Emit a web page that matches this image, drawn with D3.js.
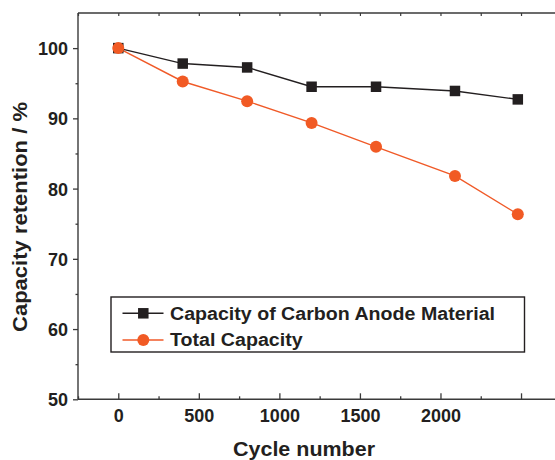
<!DOCTYPE html>
<html>
<head>
<meta charset="utf-8">
<script src="https://cdn.jsdelivr.net/npm/d3@7"></script>
<style>
html,body{margin:0;padding:0;background:#fff;}
svg{display:block;}
text{font-family:"Liberation Sans",Arial,sans-serif;font-weight:bold;fill:#231f20;}
</style>
</head>
<body>
<svg id="chart" width="555" height="460"></svg>
<script>
const cycles = [0, 400, 800, 1200, 1600, 2090, 2480];
const carbonAnode = [100, 97.8, 97.25, 94.5, 94.5, 93.9, 92.7];
const totalCapacity = [100, 95.25, 92.45, 89.35, 85.95, 81.8, 76.35];
const xTickValues = [0, 500, 1000, 1500, 2000, 2500];
const xTickLabels = ["0", "500", "1000", "1500", "2000", ""];
const xMinorValues = [-250, 250, 750, 1250, 1750, 2250, 2750];
const yTickValues = [50, 60, 70, 80, 90, 100];
const yMinorValues = [55, 65, 75, 85, 95];
const seriesNames = ["Capacity of Carbon Anode Material", "Total Capacity"];

const svg = d3.select("#chart");
const L = 78, T = 13, B = 399.3;
const x = d3.scaleLinear().domain([-250, 2750]).range([L, L + 6 * 80.55]);
const y = d3.scaleLinear().domain([50, 105]).range([B, T]);
const axisColor = "#3a3a3a";

// Bottom axis: major inward ticks with labels
const gx = svg.append("g").attr("transform", `translate(0,${B})`);
gx.call(d3.axisBottom(x).tickValues(xTickValues).tickSize(-6)
  .tickFormat((d, i) => xTickLabels[i]).tickPadding(10));
gx.select(".domain").remove();
gx.selectAll("line").attr("stroke", axisColor).attr("stroke-width", 1.3);
gx.selectAll("text").attr("font-size", 18).attr("fill", "#231f20")
  .attr("y", 22.3).attr("dy", 0);
const gxm = svg.append("g").attr("transform", `translate(0,${B})`);
gxm.call(d3.axisBottom(x).tickValues(xMinorValues).tickSize(-3).tickFormat(""));
gxm.select(".domain").remove();
gxm.selectAll("line").attr("stroke", axisColor).attr("stroke-width", 1.3);

// Top axis ticks inward
const gt = svg.append("g").attr("transform", `translate(0,${T})`);
gt.call(d3.axisTop(x).tickValues(xTickValues.concat(xMinorValues)).tickSize(-3).tickFormat(""));
gt.select(".domain").remove();
gt.selectAll("line").attr("stroke", axisColor).attr("stroke-width", 1.2);

// Left axis ticks outward
const gy = svg.append("g").attr("transform", `translate(${L},0)`);
gy.call(d3.axisLeft(y).tickValues(yTickValues).tickSize(5).tickPadding(5));
gy.select(".domain").remove();
gy.selectAll("line").attr("stroke", axisColor).attr("stroke-width", 1.3);
gy.selectAll("text").attr("font-size", 18).attr("fill", "#231f20").attr("dy", "0.36em");
const gym = svg.append("g").attr("transform", `translate(${L},0)`);
gym.call(d3.axisLeft(y).tickValues(yMinorValues).tickSize(2.5).tickFormat(""));
gym.select(".domain").remove();
gym.selectAll("line").attr("stroke", axisColor).attr("stroke-width", 1.3);

// Frame lines (left, top, bottom; right side runs off the canvas)
svg.append("line").attr("x1", L).attr("x2", 555).attr("y1", T).attr("y2", T)
  .attr("stroke", axisColor).attr("stroke-width", 1.4);
svg.append("line").attr("x1", L).attr("x2", 555).attr("y1", B).attr("y2", B)
  .attr("stroke", axisColor).attr("stroke-width", 1.4);
svg.append("line").attr("x1", L).attr("x2", L).attr("y1", T).attr("y2", B)
  .attr("stroke", axisColor).attr("stroke-width", 1.4);

// Axis titles
svg.append("text").attr("x", 304).attr("y", 456).attr("text-anchor", "middle")
  .attr("font-size", 20).attr("textLength", 142).attr("lengthAdjust", "spacingAndGlyphs")
  .text("Cycle number");
svg.append("text").attr("transform", "translate(26.5,217) rotate(-90)")
  .attr("text-anchor", "middle").attr("font-size", 20)
  .attr("textLength", 230).attr("lengthAdjust", "spacingAndGlyphs")
  .text("Capacity retention / %");

const black = "#231f20", red = "#f15a24", redLine = "#f05a28";
const line = d3.line().x(d => x(d[0])).y(d => y(d[1]));
const blackData = cycles.map((c, i) => [c, carbonAnode[i]]);
const redData = cycles.map((c, i) => [c, totalCapacity[i]]);

svg.append("path").datum(redData).attr("d", line).attr("fill", "none")
  .attr("stroke", redLine).attr("stroke-width", 1.4);
svg.append("path").datum(blackData).attr("d", line).attr("fill", "none")
  .attr("stroke", black).attr("stroke-width", 1.4);

const sq = 10.5;
svg.selectAll("rect.pt").data(blackData).enter().append("rect").attr("class", "pt")
  .attr("x", d => x(d[0]) - sq / 2).attr("y", d => y(d[1]) - sq / 2)
  .attr("width", sq).attr("height", sq).attr("fill", black);
svg.selectAll("circle.pt").data(redData).enter().append("circle").attr("class", "pt")
  .attr("cx", d => x(d[0])).attr("cy", d => y(d[1])).attr("r", 6).attr("fill", red);

// Legend
const lg = svg.append("g");
lg.append("rect").attr("x", 111).attr("y", 297).attr("width", 413.5).attr("height", 55)
  .attr("fill", "#fff").attr("stroke", "#231f20").attr("stroke-width", 1.4);
const rows = [313.3, 340];
const legendWidths = [325, 132.7];
lg.append("line").attr("x1", 122.5).attr("x2", 163.5).attr("y1", rows[0]).attr("y2", rows[0])
  .attr("stroke", black).attr("stroke-width", 1.4);
lg.append("rect").attr("x", 143.3 - sq / 2).attr("y", rows[0] - sq / 2).attr("width", sq)
  .attr("height", sq).attr("fill", black);
lg.append("line").attr("x1", 122.5).attr("x2", 163.5).attr("y1", rows[1]).attr("y2", rows[1])
  .attr("stroke", redLine).attr("stroke-width", 1.4);
lg.append("circle").attr("cx", 143.3).attr("cy", rows[1]).attr("r", 6).attr("fill", red);
seriesNames.forEach((n, i) => {
  lg.append("text").attr("x", 170).attr("y", rows[i]).attr("dy", "0.36em")
    .attr("font-size", 17.5).attr("textLength", legendWidths[i])
    .attr("lengthAdjust", "spacingAndGlyphs").text(n);
});
</script>
</body>
</html>
